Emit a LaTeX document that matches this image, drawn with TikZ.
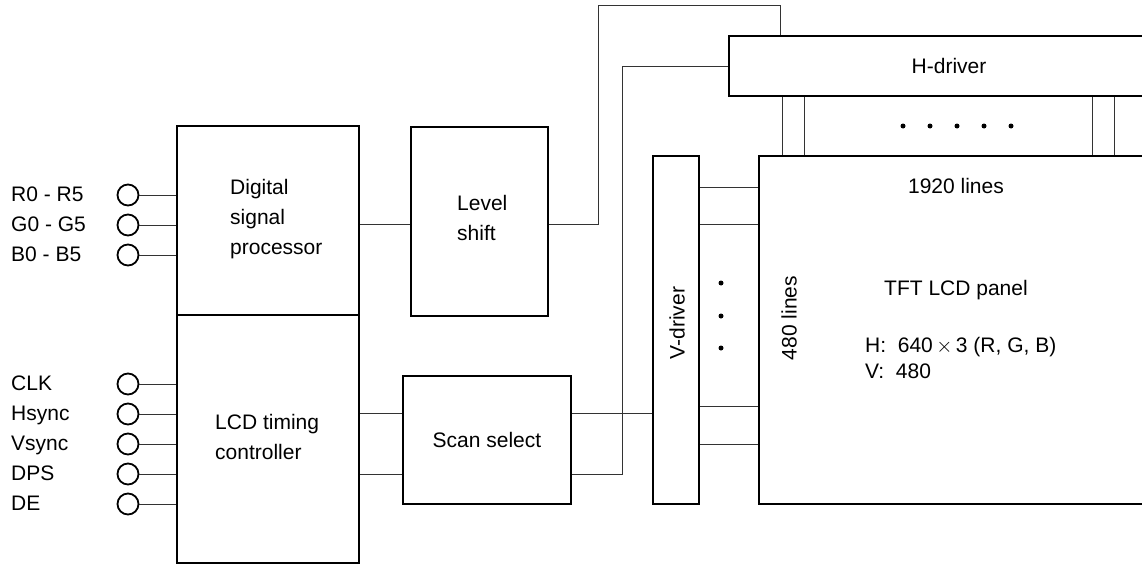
\documentclass[tikz,border=0pt]{standalone}
\usepackage{fontspec}
\setmainfont{Liberation Sans}
\tikzset{
  box/.style={draw, line width=2.5pt, inner sep=0pt},
  wire/.style={line width=0.9pt, black!80},
  pin/.style={circle, draw, line width=1.8pt, minimum size=21pt, inner sep=0pt},
  lbl/.style={inner sep=0pt, anchor=base west},
  txt/.style={inner sep=0pt, anchor=north west, align=left},
}
\begin{document}
\begin{tikzpicture}[x=1pt,y=-1pt,font=\fontsize{21}{30}\selectfont]
  \useasboundingbox (0,0) rectangle (1142,570);
  \clip (0,0) rectangle (1142,570);
  % blocks
  \node[box, minimum width=182pt, minimum height=189pt] (dsp) at (268,220.5) {};
  \node[box, minimum width=182pt, minimum height=248pt] (ltc) at (268,439) {};
  \node[box, minimum width=137pt, minimum height=189pt] (lvl) at (479.5,221.5) {};
  \node[box, minimum width=168pt, minimum height=128pt] (scan) at (487,440) {Scan select};
  \node[box, minimum width=46pt, minimum height=348pt] (vdrv) at (676,330) {};
  \node[box, minimum width=440pt, minimum height=60pt] (hdrv) at (949,66) {H-driver};
  \node[box, minimum width=394pt, minimum height=348pt] (panel) at (956,330) {};
  % block texts
  \node[txt] (dsptxt) at (230,179) {Digital\\signal\\processor};
  \node[txt] (lvltxt) at (457,195) {Level\\shift};
  \node[txt] (ltctxt) at (215,414) {LCD timing\\controller};
  \node[rotate=90, inner sep=0pt] (vdrvtxt) at (677,323) {V-driver};
  \node[rotate=90, inner sep=0pt] (vlines) at (789,318) {480 lines};
  \node[inner sep=0pt, anchor=base] (hlines) at (956,193) {1920 lines};
  \node[inner sep=0pt, anchor=base] (paneltxt) at (956,295.7) {TFT LCD panel};
  \node[lbl] (htxt) at (865,352.7) {H:\ \ 640$\,\times\,$3 (R, G, B)};
  \node[lbl] (vtxt) at (865,378) {V:\ \ 480};
  % input pins
  \foreach \name/\y/\txt in {pr/195/R0 - R5, pg/225/G0 - G5, pb/255/B0 - B5}{
    \node[pin] (\name) at (128,\y) {};
    \node[lbl] at (11,\y+6.7) {\txt};
    \draw[wire] (\name.east) -- (dsp.west |- \name.east);
  }
  \foreach \name/\y/\txt in {pclk/384/CLK, phs/414/Hsync, pvs/444/Vsync, pdps/474/DPS, pde/504/DE}{
    \node[pin] (\name) at (128,\y) {};
    \node[lbl] at (11,\y+6.7) {\txt};
    \draw[wire] (\name.east) -- (ltc.west |- \name.east);
  }
  % connections
  \draw[wire] (dsp.east |- 0,224) -- (lvl.west |- 0,224);
  \draw[wire] (lvl.east |- 0,224) -| (598,5) -| ([xshift=53pt]hdrv.north west);
  \draw[wire] (ltc.east |- 0,413) -- (scan.west |- 0,413);
  \draw[wire] (ltc.east |- 0,474) -- (scan.west |- 0,474);
  \draw[wire] (scan.east |- 0,413) -- (vdrv.west |- 0,413);
  \draw[wire] (scan.east |- 0,474) -| (622,66) -- (hdrv.west);
  \foreach \x in {782,804,1092,1114}
    \draw[wire] (hdrv.south -| \x,0) -- (panel.north -| \x,0);
  \foreach \y in {187,224,406,444}
    \draw[wire] (vdrv.east |- 0,\y) -- (panel.west |- 0,\y);
  % dots
  \foreach \x in {903,930,957,984,1011}
    \fill (\x,126) circle (2.5pt);
  \foreach \y in {283,316,348}
    \fill (721,\y) circle (2.5pt);
\end{tikzpicture}
\end{document}
